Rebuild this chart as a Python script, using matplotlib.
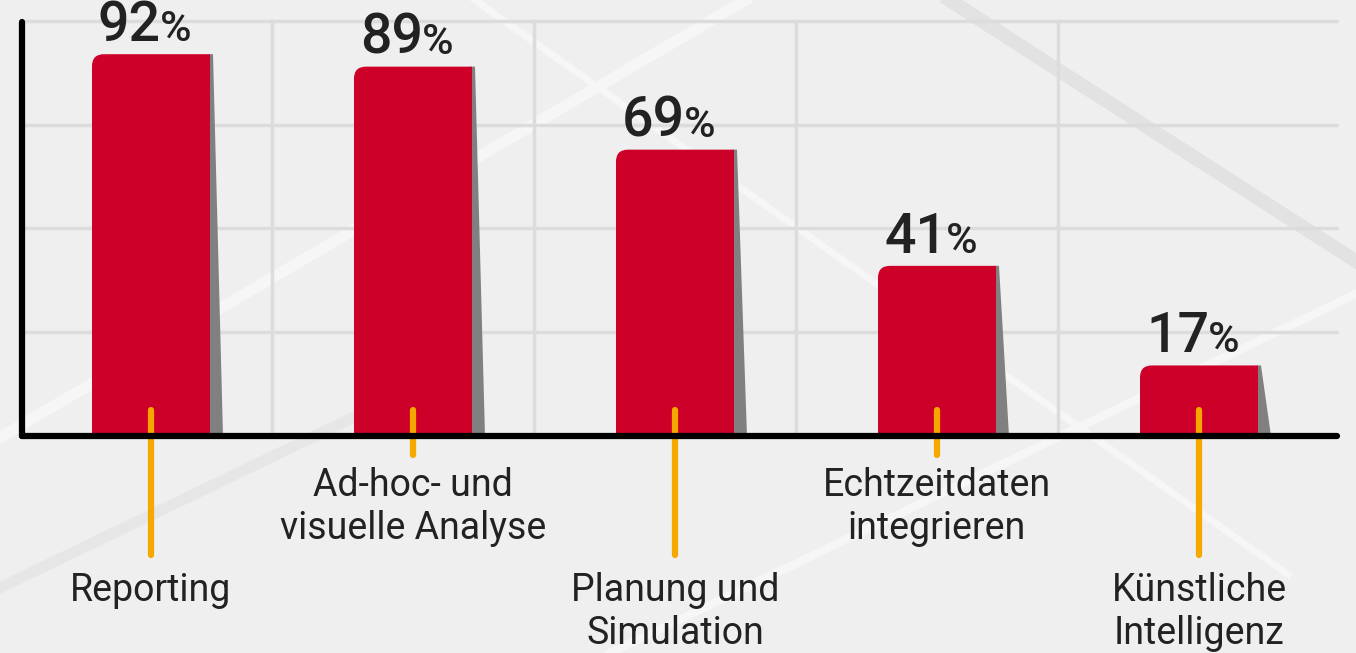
import numpy as np
import matplotlib.pyplot as plt
from matplotlib.path import Path
from matplotlib.patches import PathPatch, Polygon

categories = ["Reporting", "Ad-hoc- und\nvisuelle Analyse", "Planung und\nSimulation",
              "Echtzeitdaten\nintegrieren", "Künstliche\nIntelligenz"]
values = [92, 89, 69, 41, 17]

RED = "#cc0029"
SHADOW = "#808080"
ORANGE = "#f5a800"
BG = "#efefef"
TXT = "#222222"

W, H = 1356, 653
px_x = 262.0   # pixels per category
px_y = 4.15    # pixels per percent
x0_px, y0_px = 151, 436

fig = plt.figure(figsize=(W / 100, H / 100), dpi=100, facecolor=BG)
ax = fig.add_axes([0, 0, 1, 1])
ax.set_facecolor(BG)
ax.set_xlim(-x0_px / px_x, (W - x0_px) / px_x)
ax.set_ylim(-(H - y0_px) / px_y, y0_px / px_y)
ax.axis("off")

def dx(p):
    return p / px_x

def dy(p):
    return p / px_y

# decorative background
for a, b, lw, c in [((0.70, 1.0), (1.0, 0.6), 10, "#e2e2e2"),
                    ((0.0, 0.33), (0.55, 1.0), 8, "#f6f6f6"),
                    ((0.0, 0.1), (0.35, 0.45), 8, "#e6e6e6"),
                    ((0.45, 0.0), (1.0, 0.55), 6, "#f6f6f6"),
                    ((0.35, 1.0), (0.95, 0.12), 5, "#f6f6f6")]:
    fig.add_artist(plt.Line2D([a[0], b[0]], [a[1], b[1]], lw=lw, color=c,
                              transform=fig.transFigure, zorder=0))

x_left = dx(22 - x0_px)
x_right = dx(1337 - x0_px)
for g in [25, 50, 75, 100]:
    ax.plot([x_left, x_right], [g, g], color="#dcdcdc", lw=2.5, zorder=1,
            solid_capstyle="round")
for i in range(len(categories) - 1):
    xv = i + 0.5 - dx(10)
    ax.plot([xv, xv], [0, 100], color="#dcdcdc", lw=2.5, zorder=1)

bw = dx(118)
rx, ry = dx(12), dy(12)
for i, v in enumerate(values):
    l, r = i - bw / 2, i + bw / 2
    # shadow
    ax.add_patch(Polygon([(r - dx(1), v), (r + dx(3), v), (r + dx(13), 0), (r - dx(1), 0)],
                         closed=True, facecolor=SHADOW, edgecolor="none", zorder=2))
    verts = [(l, 0), (l, v - ry), (l, v), (l + rx, v), (r, v), (r, 0), (l, 0)]
    codes = [Path.MOVETO, Path.LINETO, Path.CURVE3, Path.CURVE3, Path.LINETO,
             Path.LINETO, Path.CLOSEPOLY]
    ax.add_patch(PathPatch(Path(verts, codes), facecolor=RED, edgecolor="none", zorder=3))

    # value label: big number + small percent sign
    ax.annotate(str(v), (i, v), xytext=(10, 13), textcoords="offset pixels",
                ha="right", va="baseline", fontsize=40, fontweight="medium",
                color=TXT, family="Roboto", zorder=5)
    ax.annotate("%", (i, v), xytext=(9, 13), textcoords="offset pixels",
                ha="left", va="baseline", fontsize=31, fontweight="medium",
                color=TXT, family="Roboto", zorder=5)

    # connector and category label
    long = i % 2 == 0
    end = dy(555 - y0_px) if long else dy(455 - y0_px)
    ax.plot([i, i], [dy(26), -end], color=ORANGE, lw=4.5, solid_capstyle="round", zorder=4)
    ty = -dy(572 - y0_px) if long else -dy(467 - y0_px)
    ax.text(i, ty, categories[i], ha="center", va="top", fontsize=27,
            color=TXT, family="Roboto", linespacing=1.2, zorder=5)

# axes lines
ax.plot([x_left, x_left], [0, dy(y0_px - 22)], color="black", lw=4.5,
        solid_capstyle="round", zorder=6)
ax.plot([x_left, x_right], [0, 0], color="black", lw=4.5,
        solid_capstyle="round", zorder=6)

fig.savefig("out.png", dpi=100, facecolor=BG)
